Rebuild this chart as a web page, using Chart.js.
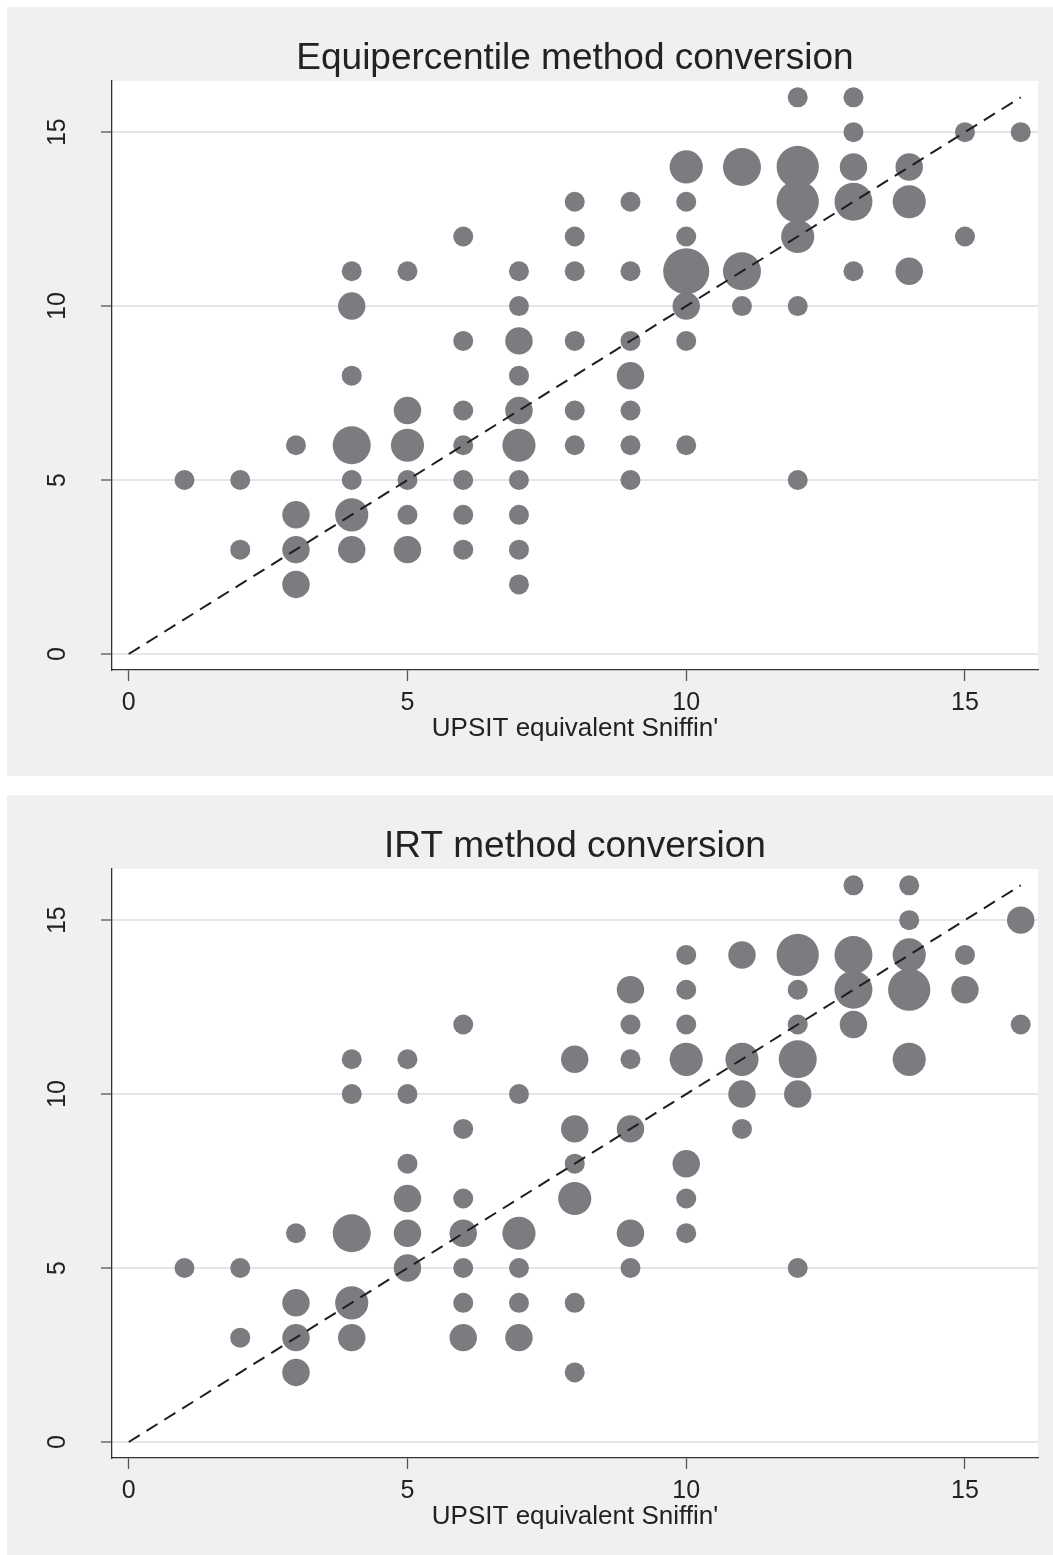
<!DOCTYPE html>
<html>
<head>
<meta charset="utf-8">
<title>UPSIT equivalent Sniffin'</title>
<script src="https://cdn.jsdelivr.net/npm/chart.js@4.4.1/dist/chart.umd.min.js"></script>
<style>
  html, body { margin: 0; padding: 0; background: #fff; overflow: hidden; }
  .panel { position: absolute; left: 7px; width: 1046px; height: 769px; background: #eff0f2; }
  #panel-equi { top: 7px; }
  #panel-irt { top: 795px; }
</style>
</head>
<body>
<div class="panel" id="panel-equi"><canvas id="chart-equi" width="1046" height="769"></canvas></div>
<div class="panel" id="panel-irt"><canvas id="chart-irt" width="1046" height="769"></canvas></div>
<script>
(function() {
    'use strict';

    // [Sniffin' score, UPSIT equivalent, number of subjects]
    const equipercentilePoints = [
        [1, 5, 1],
        [2, 5, 1], [2, 3, 1],
        [3, 6, 1], [3, 4, 2], [3, 3, 2], [3, 2, 2],
        [4, 11, 1], [4, 10, 2], [4, 8, 1], [4, 6, 4], [4, 5, 1], [4, 4, 3], [4, 3, 2],
        [5, 11, 1], [5, 7, 2], [5, 6, 3], [5, 5, 1], [5, 4, 1], [5, 3, 2],
        [6, 12, 1], [6, 9, 1], [6, 7, 1], [6, 6, 1], [6, 5, 1], [6, 4, 1], [6, 3, 1],
        [7, 11, 1], [7, 10, 1], [7, 9, 2], [7, 8, 1], [7, 7, 2], [7, 6, 3], [7, 5, 1], [7, 4, 1], [7, 3, 1], [7, 2, 1],
        [8, 13, 1], [8, 12, 1], [8, 11, 1], [8, 9, 1], [8, 7, 1], [8, 6, 1],
        [9, 13, 1], [9, 11, 1], [9, 9, 1], [9, 8, 2], [9, 7, 1], [9, 6, 1], [9, 5, 1],
        [10, 14, 3], [10, 13, 1], [10, 12, 1], [10, 11, 6], [10, 10, 2], [10, 9, 1], [10, 6, 1],
        [11, 14, 4], [11, 11, 4], [11, 10, 1],
        [12, 16, 1], [12, 14, 5], [12, 13, 5], [12, 12, 3], [12, 10, 1], [12, 5, 1],
        [13, 16, 1], [13, 15, 1], [13, 14, 2], [13, 13, 4], [13, 11, 1],
        [14, 14, 2], [14, 13, 3], [14, 11, 2],
        [15, 15, 1], [15, 12, 1],
        [16, 15, 1]
    ];

    const irtPoints = [
        [1, 5, 1],
        [2, 5, 1], [2, 3, 1],
        [3, 6, 1], [3, 4, 2], [3, 3, 2], [3, 2, 2],
        [4, 11, 1], [4, 10, 1], [4, 6, 4], [4, 4, 3], [4, 3, 2],
        [5, 11, 1], [5, 10, 1], [5, 8, 1], [5, 7, 2], [5, 6, 2], [5, 5, 2],
        [6, 12, 1], [6, 9, 1], [6, 7, 1], [6, 6, 2], [6, 5, 1], [6, 4, 1], [6, 3, 2],
        [7, 10, 1], [7, 6, 3], [7, 5, 1], [7, 4, 1], [7, 3, 2],
        [8, 11, 2], [8, 9, 2], [8, 8, 1], [8, 7, 3], [8, 4, 1], [8, 2, 1],
        [9, 13, 2], [9, 12, 1], [9, 11, 1], [9, 9, 2], [9, 6, 2], [9, 5, 1],
        [10, 14, 1], [10, 13, 1], [10, 12, 1], [10, 11, 3], [10, 8, 2], [10, 7, 1], [10, 6, 1],
        [11, 14, 2], [11, 11, 3], [11, 10, 2], [11, 9, 1],
        [12, 14, 5], [12, 13, 1], [12, 12, 1], [12, 11, 4], [12, 10, 2], [12, 5, 1],
        [13, 16, 1], [13, 14, 4], [13, 13, 4], [13, 12, 2],
        [14, 16, 1], [14, 15, 1], [14, 14, 3], [14, 13, 5], [14, 11, 3],
        [15, 14, 1], [15, 13, 2],
        [16, 15, 2], [16, 12, 1]
    ];

    // Reference line y = x
    const identityLine = [0, 16];

    const xTicks = [0, 5, 10, 15];
    const yTicks = [0, 5, 10, 15];
    const xRange = [-0.3, 16.31];
    const yRange = [-0.46, 16.47];

    const colors = {
        marker: '#7b7c80',
        text: '#222222',
        axis: '#333333',
        tick: '#555555',
        grid: '#e6e6e6',
        line: '#1e1e1e',
        plot: '#ffffff'
    };

    Chart.defaults.font.family = "'Liberation Sans', Arial, sans-serif";

    // White plot region on the grey panel
    const plotBackground = {
        id: 'plotBackground',
        beforeDraw(chart) {
            const a = chart.chartArea;
            const ctx = chart.ctx;
            ctx.save();
            ctx.fillStyle = colors.plot;
            ctx.fillRect(a.left, a.top, a.right - a.left, a.bottom - a.top);
            ctx.restore();
        }
    };

    function makeChart(canvasId, titleText, points) {
        const ctx = document.getElementById(canvasId).getContext('2d');

        new Chart(ctx, {
            type: 'bubble',
            data: {
                datasets: [
                    {
                        type: 'line',
                        data: identityLine.map(v => ({ x: v, y: v })),
                        borderColor: colors.line,
                        borderWidth: 2,
                        borderDash: [13, 8],
                        pointRadius: 0,
                        fill: false,
                        order: 0
                    },
                    {
                        data: points.map(p => ({ x: p[0], y: p[1], n: p[2] })),
                        backgroundColor: colors.marker,
                        borderWidth: 0,
                        radius: function(c) {
                            // marker area grows with the number of subjects
                            return c.raw ? 9 * Math.sqrt(c.raw.n) + 1 : 10;
                        },
                        clip: false,
                        order: 1
                    }
                ]
            },
            options: {
                responsive: false,
                animation: false,
                events: [],
                layout: {
                    autoPadding: false,
                    padding: { left: 0, right: 15, top: 0, bottom: 0 }
                },
                plugins: {
                    legend: { display: false },
                    tooltip: { enabled: false },
                    title: {
                        display: true,
                        text: titleText,
                        color: colors.text,
                        fullSize: false,
                        font: { size: 37, weight: 'normal', lineHeight: 1.1 },
                        padding: { top: 31.6, bottom: 1.7 }
                    }
                },
                scales: {
                    x: {
                        type: 'linear',
                        min: xRange[0],
                        max: xRange[1],
                        afterBuildTicks: function(scale) {
                            scale.ticks = xTicks.map(v => ({ value: v }));
                        },
                        afterFit: function(scale) {
                            scale.height = 106;
                            scale.paddingLeft = 0;
                            scale.paddingRight = 0;
                        },
                        grid: {
                            drawOnChartArea: false,
                            drawTicks: true,
                            tickLength: 11,
                            tickColor: colors.tick,
                            tickWidth: 1.3
                        },
                        border: {
                            display: true,
                            color: colors.axis,
                            width: 1.3
                        },
                        ticks: {
                            color: colors.text,
                            font: { size: 25 },
                            padding: 7,
                            maxRotation: 0,
                            minRotation: 0
                        },
                        title: {
                            display: true,
                            text: "UPSIT equivalent Sniffin'",
                            color: colors.text,
                            font: { size: 26 },
                            padding: { top: 0, bottom: 32 }
                        }
                    },
                    y: {
                        type: 'linear',
                        min: yRange[0],
                        max: yRange[1],
                        afterBuildTicks: function(scale) {
                            scale.ticks = yTicks.map(v => ({ value: v }));
                        },
                        afterFit: function(scale) {
                            scale.width = 105;
                        },
                        grid: {
                            color: colors.grid,
                            lineWidth: 2,
                            drawTicks: true,
                            tickLength: 11,
                            tickColor: colors.tick,
                            tickWidth: 1.3
                        },
                        border: {
                            display: true,
                            color: colors.axis,
                            width: 1.3
                        },
                        ticks: {
                            color: colors.text,
                            font: { size: 25 },
                            minRotation: 90,
                            maxRotation: 90,
                            crossAlign: 'center',
                            padding: 29
                        }
                    }
                }
            },
            plugins: [plotBackground]
        });
    }

    makeChart('chart-equi', 'Equipercentile method conversion', equipercentilePoints);
    makeChart('chart-irt', 'IRT method conversion', irtPoints);
})();
</script>
</body>
</html>
